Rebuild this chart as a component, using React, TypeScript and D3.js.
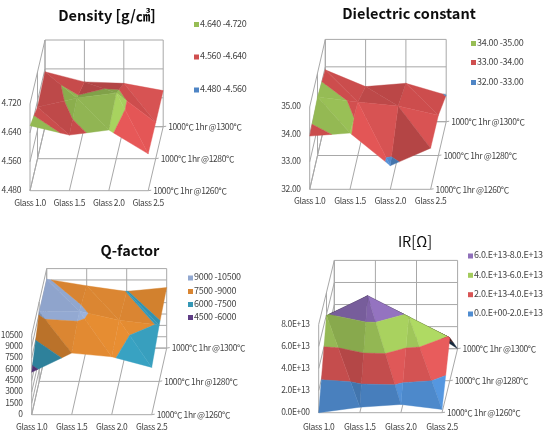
import React from "react";
import * as d3 from "d3";

const glassLabels = ["Glass 1.0", "Glass 1.5", "Glass 2.0", "Glass 2.5"];
const firingLabels = ["1000℃ 1hr @1260℃", "1000℃ 1hr @1280℃", "1000℃ 1hr @1300℃"];

const density1260 = [4.66, 4.634, 4.648, 4.582];
const density1280 = [4.623, 4.648, 4.662, 4.58];
const density1300 = [4.632, 4.604, 4.6, 4.58];
const densityTicks = [4.48, 4.56, 4.64, 4.72];
const densityTickLabels = ["4.480", "4.560", "4.640", "4.720"];
const densityBands = [
  { lo: 4.64, hi: 4.72, label: "4.640 -4.720", color: "#97BD55" },
  { lo: 4.56, hi: 4.64, label: "4.560 -4.640", color: "#CF4F4F" },
  { lo: 4.48, hi: 4.56, label: "4.480 -4.560", color: "#4F85C5" },
];

const dielectric1260 = [33.94, 34.05, 32.86, 33.5];
const dielectric1280 = [34.14, 33.95, 33.8, 33.47];
const dielectric1300 = [33.89, 33.28, 33.4, 32.97];
const dielectricTicks = [32, 33, 34, 35];
const dielectricTickLabels = ["32.00", "33.00", "34.00", "35.00"];
const dielectricBands = [
  { lo: 34, hi: 35, label: "34.00 -35.00", color: "#97BD55" },
  { lo: 33, hi: 34, label: "33.00 -34.00", color: "#CF4F4F" },
  { lo: 32, hi: 33, label: "32.00 -33.00", color: "#4F85C5" },
];

const q1260 = [5600, 8140, 7650, 6250];
const q1280 = [9190, 9270, 8090, 7430];
const q1300 = [9100, 8225, 7480, 8000];
const qTicks = [0, 1500, 3000, 4500, 6000, 7500, 9000, 10500];
const qTickLabels = ["0", "1500", "3000", "4500", "6000", "7500", "9000", "10500"];
const qBands = [
  { lo: 9000, hi: 10500, label: "9000 -10500", color: "#92A8D0" },
  { lo: 7500, hi: 9000, label: "7500 -9000", color: "#D98530" },
  { lo: 6000, hi: 7500, label: "6000 -7500", color: "#3597B5" },
  { lo: 4500, hi: 6000, label: "4500 -6000", color: "#5E3C85" },
];

const ir1260 = [0, 0.5e13, 0.75e13, 0.3e13];
const ir1280 = [5.9e13, 7.7e13, 5.8e13, 3.9e13];
const ir1300 = [3.0e13, 4.2e13, 2.4e13, 0];
const irTicks = [0, 2e13, 4e13, 6e13, 8e13];
const irTickLabels = ["0.0E+00", "2.0E+13", "4.0E+13", "6.0E+13", "8.0E+13"];
const irBands = [
  { lo: 6e13, hi: 8e13, label: "6.0.E+13-8.0.E+13", color: "#8F6FBA" },
  { lo: 4e13, hi: 6e13, label: "4.0.E+13-6.0.E+13", color: "#A3CB5C" },
  { lo: 2e13, hi: 4e13, label: "2.0.E+13-4.0.E+13", color: "#D85555" },
  { lo: 0, hi: 2e13, label: "0.0.E+00-2.0.E+13", color: "#4F8CD0" },
];

type Band = { lo: number; hi: number; label: string; color: string };
type V3 = [number, number, number];

const FONT = "'Noto Sans CJK KR','Noto Sans',sans-serif";
const GRID = "#A8A8A8";
const TEXT = "#444";

function clip(poly: V3[], keep: (p: V3) => number): V3[] {
  const out: V3[] = [];
  poly.forEach((a, k) => {
    const b = poly[(k + 1) % poly.length];
    const da = keep(a);
    const db = keep(b);
    if (da >= 0) out.push(a);
    if (da >= 0 !== db >= 0) {
      const t = da / (da - db);
      out.push([a[0] + (b[0] - a[0]) * t, a[1] + (b[1] - a[1]) * t, a[2] + (b[2] - a[2]) * t]);
    }
  });
  return out;
}

function shade(color: string, f: number) {
  const c = d3.rgb(color);
  return d3.rgb(Math.min(255, c.r * f), Math.min(255, c.g * f), Math.min(255, c.b * f)).formatHex();
}

type ChartProps = {
  title: string;
  titleX: number;
  titleY: number;
  titleWeight?: number;
  rows: number[][];
  ticks: number[];
  tickLabels: string[];
  bands: Band[];
  x0: number;
  y0: number;
  dx: number;
  dxj: number;
  dyj: number;
  h: number;
  tickY?: number;
  legendX: number;
  legendYs: number[];
  xLabelDy: number;
};

function Chart(p: ChartProps) {
  const zMin = p.ticks[0];
  const zMax = p.ticks[p.ticks.length - 1];
  const sx = d3.scaleLinear().domain([0, 3]).range([p.x0, p.x0 + 3 * p.dx]);
  const sjx = d3.scaleLinear().domain([0, 2]).range([0, 2 * p.dxj]);
  const sjy = d3.scaleLinear().domain([0, 2]).range([0, 2 * p.dyj]);
  const sz = d3.scaleLinear().domain([zMin, zMax]).range([0, p.h]);
  const project = (v: V3): [number, number] => [sx(v[0]) + sjx(v[1]), p.y0 + sjy(v[1]) - sz(v[2])];
  const path = d3.line<V3>().x((d) => project(d)[0]).y((d) => project(d)[1]).curve(d3.curveLinearClosed);

  const L = [0.6, -0.3, 0.74];
  const faces: { d: string; fill: string }[] = [];
  const addTri = (a: V3, b: V3, c: V3) => {
    const u = [b[0] - a[0], b[1] - a[1], (sz(b[2]) - sz(a[2])) / p.dx];
    const v = [c[0] - a[0], c[1] - a[1], (sz(c[2]) - sz(a[2])) / p.dx];
    let n = [u[1] * v[2] - u[2] * v[1], u[2] * v[0] - u[0] * v[2], u[0] * v[1] - u[1] * v[0]];
    if (n[2] < 0) n = n.map((q) => -q);
    const len = Math.hypot(n[0], n[1], n[2]);
    const lit = (n[0] * L[0] + n[1] * L[1] + n[2] * L[2]) / len;
    const pa = project(a);
    const pb = project(b);
    const pc = project(c);
    const area = (pb[0] - pa[0]) * (pc[1] - pa[1]) - (pb[1] - pa[1]) * (pc[0] - pa[0]);
    const fa = [a, b, c];
    const flatRef = (() => {
      const qa = project([a[0], a[1], zMin]);
      const qb = project([b[0], b[1], zMin]);
      const qc = project([c[0], c[1], zMin]);
      return (qb[0] - qa[0]) * (qc[1] - qa[1]) - (qb[1] - qa[1]) * (qc[0] - qa[0]);
    })();
    const under = area * flatRef < 0;
    const f = under ? 0.3 : Math.max(0.62, 0.8 + 0.55 * (lit - 0.4));
    p.bands.forEach((b0) => {
      let poly = clip(fa, (q) => q[2] - b0.lo);
      if (poly.length) poly = clip(poly, (q) => b0.hi - q[2]);
      if (poly.length >= 3) faces.push({ d: path(poly) as string, fill: shade(b0.color, f) });
    });
  };
  for (let j = 1; j >= 0; j--) {
    for (let i = 2; i >= 0; i--) {
      const g = (a: number, b: number): V3 => [a, b, p.rows[b][a]];
      addTri(g(i, j + 1), g(i + 1, j + 1), g(i + 1, j));
      addTri(g(i, j), g(i, j + 1), g(i + 1, j));
    }
  }

  const seg = (a: V3, b: V3, key: string) => {
    const [x1, y1] = project(a);
    const [x2, y2] = project(b);
    return <line key={key} x1={x1} y1={y1} x2={x2} y2={y2} stroke={GRID} strokeWidth={1} />;
  };

  return (
    <g fontFamily={FONT}>
      <text x={p.titleX} y={p.titleY} textAnchor="middle" dominantBaseline="middle" fontSize={14.5} fontWeight={p.titleWeight ?? 700} fill="#111">
        {p.title}
      </text>
      {p.ticks.map((t, k) => (
        <g key={"z" + k}>
          {seg([0, 0, t], [0, 2, t], "l")}
          {seg([0, 2, t], [3, 2, t], "b")}
        </g>
      ))}
      {[0, 1, 2, 3].map((i) => (
        <g key={"i" + i}>
          {seg([i, 0, zMin], [i, 2, zMin], "f")}
          {seg([i, 2, zMin], [i, 2, zMax], "v")}
        </g>
      ))}
      {[0, 1, 2].map((j) => (
        <g key={"j" + j}>
          {seg([0, j, zMin], [3, j, zMin], "f")}
          {seg([0, j, zMin], [0, j, zMax], "v")}
        </g>
      ))}
      {faces.map((f, k) => (
        <path key={k} d={f.d} fill={f.fill} stroke={f.fill} strokeWidth={0.4} />
      ))}
      {p.ticks.map((t, k) => (
        <text key={"zl" + k} x={p.x0 - 9} y={project([0, 0, t])[1]} textAnchor="end" dominantBaseline="middle" fontSize={8.5} letterSpacing={-0.35} fill={TEXT}>
          {p.tickLabels[k]}
        </text>
      ))}
      {glassLabels.map((l, i) => (
        <text key={l} x={project([i, 0, zMin])[0]} y={p.y0 + p.xLabelDy} textAnchor="middle" dominantBaseline="middle" fontSize={8.5} letterSpacing={-0.35} fill={TEXT}>
          {l}
        </text>
      ))}
      {firingLabels.map((l, j) => {
        const [x, y] = project([3, j, zMin]);
        return (
          <g key={l}>
            <line x1={x} y1={y} x2={x + 3} y2={y - 0.5} stroke={GRID} />
            <text x={x + 5} y={y + 1} dominantBaseline="middle" fontSize={8.5} letterSpacing={-0.4} fill={TEXT}>
              {l}
            </text>
          </g>
        );
      })}
      {p.bands.map((b, k) => (
        <g key={b.label}>
          <rect x={p.legendX} y={p.legendYs[k] - 2.5} width={5} height={5} fill={b.color} />
          <text x={p.legendX + 6} y={p.legendYs[k]} dominantBaseline="middle" fontSize={9} letterSpacing={-0.3} fill={TEXT}>
            {b.label}
          </text>
        </g>
      ))}
    </g>
  );
}

export default function App() {
  return (
    <svg width={543} height={443} style={{ position: "absolute", left: 0, top: 0, background: "#fff" }}>
      <defs>
        <filter id="soft" x="0" y="0" width="100%" height="100%">
          <feGaussianBlur stdDeviation={0.4} />
        </filter>
      </defs>
      <g filter="url(#soft)">
        <rect width={543} height={443} fill="#fff" />
        <Chart title="Density [g/㎤]" titleX={107} titleY={17} rows={[density1260, density1280, density1300]} ticks={densityTicks} tickLabels={densityTickLabels} bands={densityBands}
          x0={30} y0={190.7} dx={39.4} dxj={7.5} dyj={-32} h={86.7} legendX={194} legendYs={[24.5, 57, 90]} xLabelDy={13} />
        <Chart title="Dielectric constant" titleX={409} titleY={15} rows={[dielectric1260, dielectric1280, dielectric1300]} ticks={dielectricTicks} tickLabels={dielectricTickLabels} bands={dielectricBands}
          x0={309.7} y0={189.3} dx={40.3} dxj={7.8} dyj={-33.8} h={82.3} legendX={471} legendYs={[43.5, 62.5, 82.5]} xLabelDy={12.5} />
        <Chart title="Q-factor" titleX={130} titleY={252} rows={[q1260, q1280, q1300]} ticks={qTicks} tickLabels={qTickLabels} bands={qBands}
          x0={31.7} y0={414.7} dx={40} dxj={7.5} dyj={-33.3} h={79.5} legendX={188} legendYs={[278, 291.5, 304.5, 317.5]} xLabelDy={13} />
        <Chart title="IR[Ω]" titleX={415} titleY={243} titleWeight={400} rows={[ir1260, ir1280, ir1300]} ticks={irTicks} tickLabels={irTickLabels} bands={irBands}
          x0={318.7} y0={412.7} dx={41.1} dxj={7.8} dyj={-32} h={88.3} legendX={468} legendYs={[256, 275.3, 294.7, 314]} xLabelDy={15} />
      </g>
    </svg>
  );
}
